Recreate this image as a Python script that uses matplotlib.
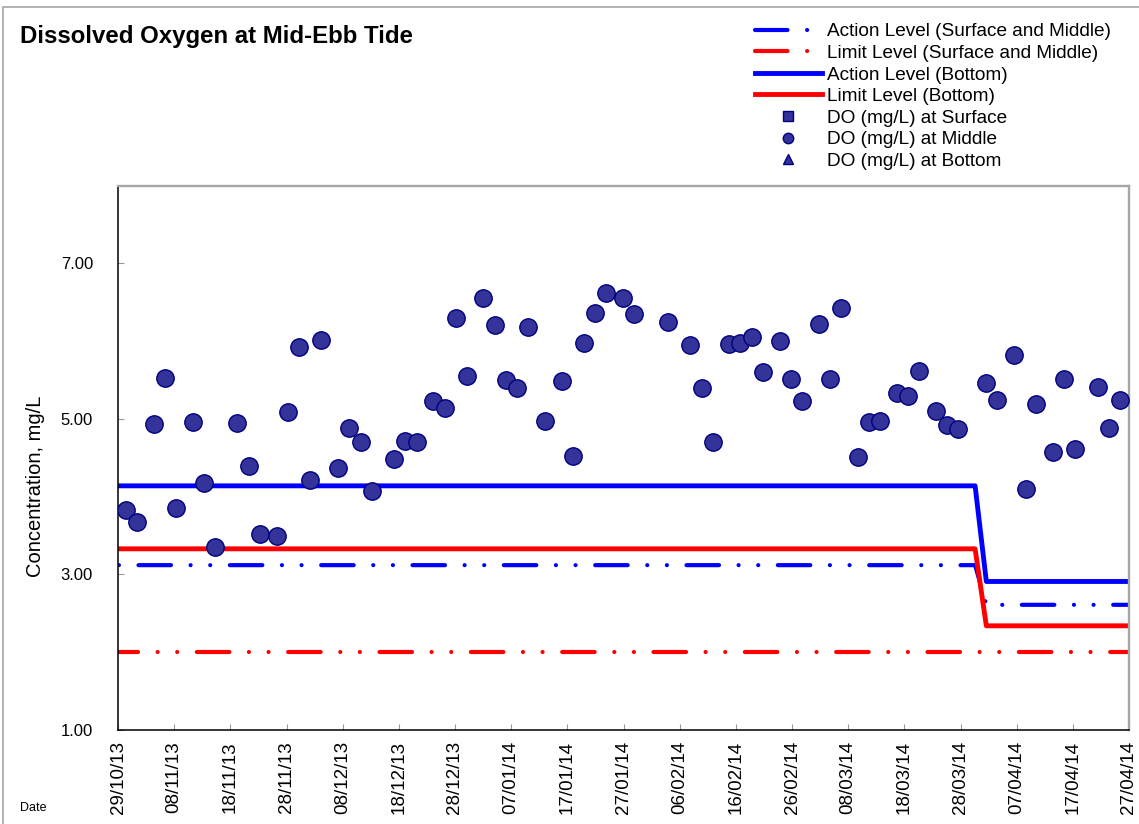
import matplotlib
matplotlib.use('Agg')
import matplotlib.pyplot as plt
import matplotlib.dates as mdates
from matplotlib.lines import Line2D
from matplotlib.patches import Rectangle
from matplotlib import font_manager
import pandas as pd

plt.rcParams['font.family'] = ['Liberation Sans', 'DejaVu Sans']
installed = {f.name for f in font_manager.fontManager.ttflist}
NARROW = 'Liberation Sans Narrow' in installed

START = pd.Timestamp('2013-10-29')
END = pd.Timestamp('2014-04-27')

# DO at middle depth, days after 29/10/13 and mg/L
do_days = [1.4, 3.4, 6.4, 8.4, 10.4, 13.4, 15.4, 17.3, 21.2, 23.3, 25.3, 28.3,
           30.3, 32.3, 34.2, 36.2, 39.2, 41.2, 43.2, 45.2, 49.1, 51.1, 53.2,
           56.1, 58.2, 60.2, 62.1, 65.0, 67.1, 69.1, 71.0, 73.0, 76.0, 79.0,
           81.0, 83.0, 85.0, 86.9, 89.9, 91.9, 97.9, 101.9, 103.9, 105.9,
           108.7, 110.8, 112.8, 114.8, 117.8, 119.8, 121.8, 124.8, 126.7,
           128.8, 131.7, 133.7, 135.7, 138.7, 140.7, 142.7, 145.6, 147.6,
           149.6, 154.6, 156.5, 159.6, 161.6, 163.5, 166.5, 168.5, 170.4,
           174.5, 176.5, 178.4]
do_middle = [3.83, 3.67, 4.93, 5.53, 3.85, 4.96, 4.18, 3.35, 4.95, 4.39, 3.52,
             3.50, 5.09, 5.92, 4.22, 6.02, 4.37, 4.89, 4.71, 4.07, 4.49, 4.72,
             4.71, 5.23, 5.14, 6.30, 5.55, 6.56, 6.21, 5.50, 5.40, 6.18, 4.97,
             5.49, 4.53, 5.98, 6.36, 6.62, 6.56, 6.35, 6.25, 5.95, 5.40, 4.71,
             5.97, 5.98, 6.06, 5.61, 6.00, 5.52, 5.23, 6.22, 5.52, 6.43, 4.51,
             4.96, 4.98, 5.33, 5.29, 5.62, 5.10, 4.92, 4.87, 5.46, 5.25, 5.82,
             4.10, 5.19, 4.58, 5.52, 4.62, 5.41, 4.89, 5.24]

# action / limit levels
level_days = [0, 152.6, 154.6, 180]
action_sm = [3.12, 3.12, 2.61, 2.61]
limit_sm = [2.00, 2.00, 2.00, 2.00]
action_bottom = [4.14, 4.14, 2.91, 2.91]
limit_bottom = [3.33, 3.33, 2.34, 2.34]

tick_dates = pd.date_range(START, END, freq='10D')

labels = ['Action Level (Surface and Middle)', 'Limit Level (Surface and Middle)',
          'Action Level (Bottom)', 'Limit Level (Bottom)',
          'DO (mg/L) at Surface', 'DO (mg/L) at Middle', 'DO (mg/L) at Bottom']


def to_dates(days):
    return (START + pd.to_timedelta(days, unit='D')).to_pydatetime()


DASHDOT = (7.8, 4.7, 0.01, 4.7, 0.01, 4.7)
BLUE = '#0000ff'
RED = '#ff0000'
FILL = '#333399'
EDGE = '#000080'
GREY = '#a6a6a6'

fig = plt.figure(figsize=(11.39, 8.24), dpi=100)
ax = fig.add_axes([118 / 1139, 94 / 824, 1011 / 1139, 544.3 / 824])

lx = to_dates(level_days)
ax.plot(lx, action_sm, color=BLUE, lw=3, ls=(17.0, DASHDOT),
        dash_capstyle='round', zorder=2)
ax.plot(lx, limit_sm, color=RED, lw=3, ls=(3.0, DASHDOT),
        dash_capstyle='round', zorder=2)
ax.plot(lx, action_bottom, color=BLUE, lw=3.5, zorder=2)
ax.plot(lx, limit_bottom, color=RED, lw=3.5, zorder=2)
ax.plot(to_dates(do_days), do_middle, ls='none', marker='o', ms=12.5,
        mfc=FILL, mec=EDGE, mew=1, zorder=3)

ax.set_xlim(START.to_pydatetime(), END.to_pydatetime())
ax.set_ylim(1, 8)
ax.set_yticks([1, 3, 5, 7])
ax.yaxis.set_major_formatter(matplotlib.ticker.FormatStrFormatter('%.2f'))
ax.set_xticks(tick_dates.to_pydatetime())
ax.xaxis.set_major_formatter(mdates.DateFormatter('%d/%m/%y'))
ax.tick_params(axis='both', direction='in', length=4.5, width=0.8, color='#999999')
ax.tick_params(axis='x', labelrotation=90, labelsize=13.5, pad=8)
ax.tick_params(axis='y', labelsize=13.5 if NARROW else 12, pad=18)
if NARROW:
    for lab in ax.get_yticklabels():
        lab.set_family('Liberation Sans Narrow')

ax.spines['left'].set_color('black')
ax.spines['bottom'].set_color('black')
ax.spines['left'].set_linewidth(1.1)
ax.spines['bottom'].set_linewidth(1.1)
ax.spines['top'].set_color(GREY)
ax.spines['right'].set_color(GREY)
ax.spines['top'].set_linewidth(1.7)
ax.spines['right'].set_linewidth(1.7)

ax.set_ylabel('Concentration, mg/L', fontsize=14.5, va='center')
ax.yaxis.set_label_coords(-82 / 1011, (730 - 486) / 544.3)

fig.text(20 / 1139, 1 - 36 / 824, 'Dissolved Oxygen at Mid-Ebb Tide',
         fontsize=17.3, fontweight='bold', va='center', ha='left')
fig.text(20 / 1139, 1 - 808 / 824, 'Date', fontsize=9, va='center', ha='left')

handles = [
    Line2D([], [], color=BLUE, lw=3, ls=(0, DASHDOT), dash_capstyle='round'),
    Line2D([], [], color=RED, lw=3, ls=(0, DASHDOT), dash_capstyle='round'),
    Line2D([], [], color=BLUE, lw=3.5),
    Line2D([], [], color=RED, lw=3.5),
    Line2D([], [], ls='none', marker='s', ms=7, mfc=FILL, mec=EDGE),
    Line2D([], [], ls='none', marker='o', ms=7.5, mfc=FILL, mec=EDGE),
    Line2D([], [], ls='none', marker='^', ms=7.5, mfc=FILL, mec=EDGE),
]
fig.legend(handles, labels, loc='upper left', bbox_to_anchor=(755 / 1139, 1 - 23 / 824),
           frameon=False, fontsize=13.7, handlelength=3.5, handletextpad=0.3,
           labelspacing=0.225, borderpad=0, borderaxespad=0)

fig.patches.append(Rectangle((3.3 / 1139, -0.1), 1.2, 0.1 + (824 - 7.3) / 824,
                             transform=fig.transFigure, fill=False,
                             edgecolor=GREY, lw=1.2, zorder=0))

fig.savefig('out.png', dpi=100)
